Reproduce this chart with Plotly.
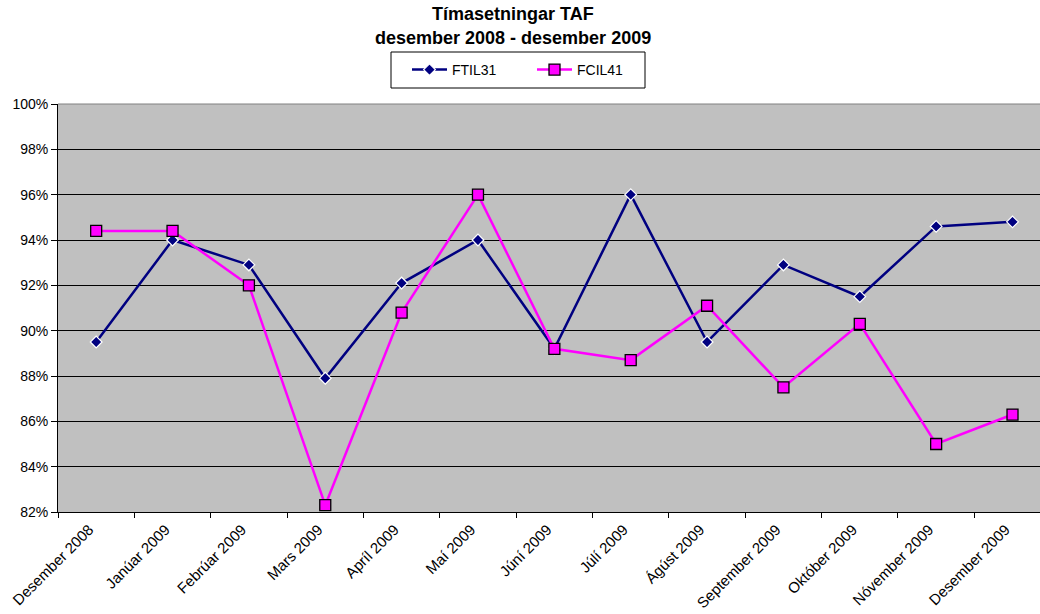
import plotly.graph_objects as go

months = ["Desember 2008", "Janúar 2009", "Febrúar 2009", "Mars 2009", "Apríl 2009",
          "Maí 2009", "Júní 2009", "Júlí 2009", "Ágúst 2009", "September 2009",
          "Október 2009", "Nóvember 2009", "Desember 2009"]
ftil31 = [0.895, 0.940, 0.929, 0.879, 0.921, 0.940, 0.892, 0.960, 0.895, 0.929, 0.915, 0.946, 0.948]
fcil41 = [0.944, 0.944, 0.920, 0.823, 0.908, 0.960, 0.892, 0.887, 0.911, 0.875, 0.903, 0.850, 0.863]
title_lines = ["Tímasetningar TAF", "desember 2008 - desember 2009"]

FONT = "Liberation Sans, Arial, sans-serif"
W, H = 1040, 614
L, R, T, B = 58, 0, 104, 102
PW, PH = W - L - R, H - T - B


def px(x):
    return (x - L) / PW


def py(y):
    return (H - B - y) / PH


fig = go.Figure()
fig.add_trace(go.Scatter(
    x=months, y=ftil31, name="FTIL31", mode="lines+markers",
    line=dict(color="#000080", width=2.5),
    marker=dict(symbol="diamond", size=9, color="#000080", line=dict(color="white", width=1.2)),
))
fig.add_trace(go.Scatter(
    x=months, y=fcil41, name="FCIL41", mode="lines+markers",
    line=dict(color="#FF00FF", width=2.5),
    marker=dict(symbol="square", size=11, color="#FF00FF", line=dict(color="black", width=1.3)),
))

fig.update_layout(
    width=W, height=H,
    margin=dict(l=L, r=R, t=T, b=B, autoexpand=False),
    paper_bgcolor="white", plot_bgcolor="#C0C0C0",
    font=dict(family=FONT, size=14, color="black"),
    showlegend=True,
    legend=dict(orientation="h", xref="container", yref="container",
                x=407/W, xanchor="left", y=1-70/H, yanchor="middle",
                bgcolor="rgba(0,0,0,0)", borderwidth=0,
                font=dict(family=FONT, size=14), itemwidth=35, entrywidth=75,
                tracegroupgap=0),
    xaxis=dict(type="category", range=[-0.5, 12.36], tickson="boundaries",
               ticks="outside", ticklen=5, tickcolor="black", tickangle=-45,
               showline=True, linecolor="black", linewidth=1, showgrid=False,
               tickfont=dict(family=FONT, size=15), ticklabelshift=-7,
               ticklabelstandoff=2, zeroline=False, automargin=False),
    yaxis=dict(range=[0.82, 1.0], dtick=0.02, tickformat=".0%",
               ticks="outside", ticklen=6, tickcolor="black",
               showline=True, linecolor="black", linewidth=1,
               showgrid=True, gridcolor="black", gridwidth=1,
               tickfont=dict(family=FONT, size=14), zeroline=False, automargin=False),
)
for txt, yc in zip(title_lines, [14, 38]):
    fig.add_annotation(text="<b>" + txt + "</b>", xref="paper", yref="paper",
                       x=px(513), y=py(yc), xanchor="center", yanchor="middle",
                       showarrow=False, font=dict(family=FONT, size=18, color="black"))
# top border of plot area
fig.add_shape(type="line", xref="paper", yref="paper", x0=0, x1=1, y0=1, y1=1,
              line=dict(color="#808080", width=1))
# legend frame
fig.add_shape(type="rect", xref="paper", yref="paper",
              x0=px(391), x1=px(645), y0=py(88), y1=py(52),
              line=dict(color="black", width=1), fillcolor="white", layer="above")

fig.write_html("out.html", config={"displayModeBar": False},
               post_script="document.body.style.margin='0';document.body.style.overflow='hidden';")
